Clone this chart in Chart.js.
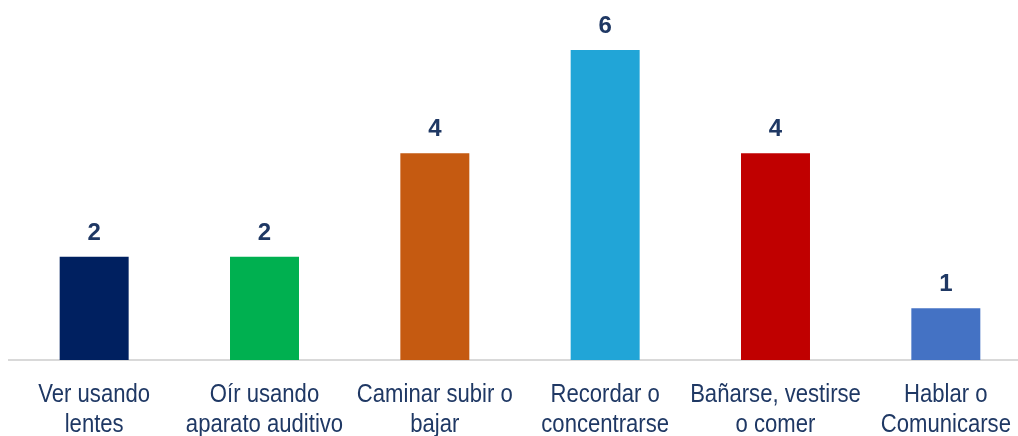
<!DOCTYPE html>
<html>
<head>
<meta charset="utf-8">
<script src="https://cdn.jsdelivr.net/npm/chart.js@4.4.1/dist/chart.umd.min.js"></script>
<style>
  html, body { margin: 0; padding: 0; background: #fff; overflow: hidden; }
  #wrap { width: 1031px; height: 436px; }
</style>
</head>
<body>
<div id="wrap"><canvas id="chart"></canvas></div>
<script>
const categories = [
  ["Ver usando", "lentes"],
  ["Oír usando", "aparato auditivo"],
  ["Caminar subir o", "bajar"],
  ["Recordar o", "concentrarse"],
  ["Bañarse, vestirse", "o comer"],
  ["Hablar o", "Comunicarse"]
]
const values = [2, 2, 4, 6, 4, 1]
const barColors = ["#002060", "#00B050", "#C55A11", "#21A5D7", "#C00000", "#4472C4"]

const textColor = "#1F3864"

// values above the bars
const valueLabels = {
  id: "valueLabels",
  afterDatasetsDraw(chart) {
    const ctx = chart.ctx
    const meta = chart.getDatasetMeta(0)
    ctx.save()
    ctx.font = "bold 24px 'Liberation Sans', Arial, sans-serif"
    ctx.fillStyle = textColor
    ctx.textAlign = "center"
    ctx.textBaseline = "alphabetic"
    meta.data.forEach((bar, i) => {
      ctx.fillText(String(values[i]), bar.x, bar.y - 17)
    })
    ctx.restore()
  }
}

// category labels in a narrow face (Arial Narrow look)
const narrowTicks = {
  id: "narrowTicks",
  afterDraw(chart) {
    const ctx = chart.ctx
    const x = chart.scales.x
    ctx.save()
    ctx.font = "26px 'Liberation Sans', Arial, sans-serif"
    ctx.fillStyle = textColor
    ctx.textAlign = "center"
    ctx.textBaseline = "alphabetic"
    categories.forEach((lines, i) => {
      const px = x.getPixelForTick(i)
      lines.forEach((line, j) => {
        ctx.save()
        ctx.translate(px, x.top + 42 + j * 30)
        ctx.scale(0.85, 1)
        ctx.fillText(line, 0, 0)
        ctx.restore()
      })
    })
    ctx.restore()
  }
}

function draw() {
  new Chart(document.getElementById("chart"), {
    type: "bar",
    data: {
      labels: categories,
      datasets: [{
        data: values,
        backgroundColor: barColors,
        borderWidth: 0,
        barPercentage: 0.405,
        categoryPercentage: 1
      }]
    },
    options: {
      responsive: true,
      maintainAspectRatio: false,
      animation: false,
      layout: { padding: { top: 50, left: 9, right: 0, bottom: 0 } },
      plugins: { legend: { display: false }, tooltip: { enabled: false } },
      scales: {
        x: {
          grid: { display: false },
          border: { display: true, color: "#D9D9D9", width: 2 },
          ticks: { display: false },
          afterFit: s => { s.height = 76 }
        },
        y: {
          display: false,
          min: 0,
          max: 6
        }
      }
    },
    plugins: [valueLabels, narrowTicks]
  })
}

Promise.all([
  document.fonts.load("26px 'Liberation Sans'"),
  document.fonts.load("bold 24px 'Liberation Sans'")
]).then(draw, draw)
</script>
</body>
</html>
